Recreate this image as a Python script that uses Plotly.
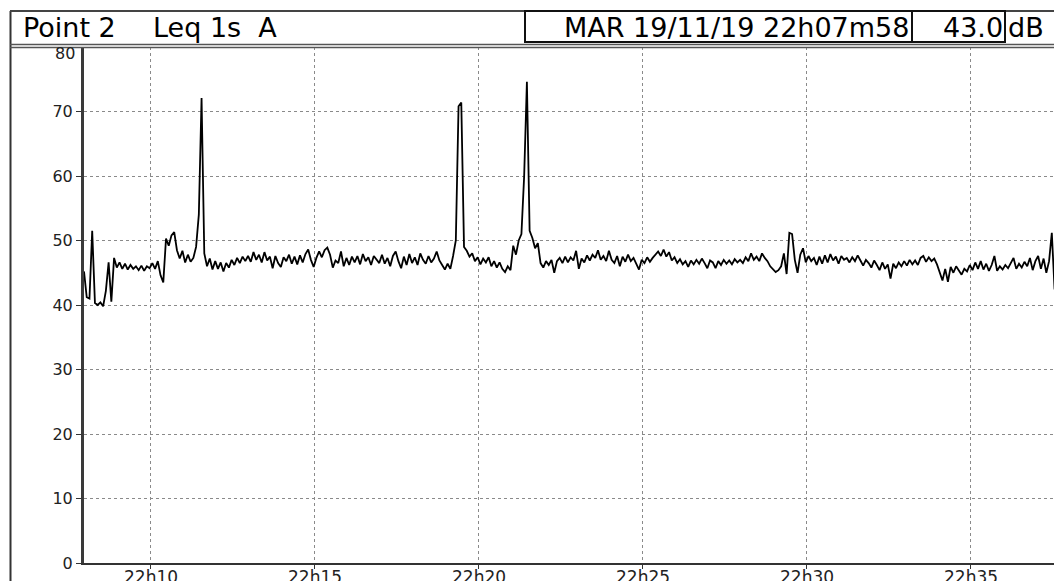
import pandas as pd
import plotly.graph_objects as go

# ---------------- data ----------------
start_time = "2019-11-19 22:07:58"
step_seconds = 5
leq_values = [
    45.2, 41.2, 41.0, 51.5, 40.3, 40.0, 40.4, 39.8, 42.2, 46.6,
    40.5, 47.3, 45.8, 46.6, 45.6, 46.4, 45.5, 46.2, 45.6, 46.0,
    45.4, 46.1, 45.3, 46.0, 45.7, 46.5, 45.6, 46.8, 44.6, 43.5,
    50.3, 49.2, 50.8, 51.3, 48.5, 47.2, 48.4, 46.6, 47.8, 46.7,
    47.3, 49.0, 54.0, 72.1, 48.0, 46.0, 47.2, 45.5, 46.8, 45.6,
    46.6, 45.2, 46.5, 45.8, 47.0, 46.2, 47.3, 46.5, 47.5, 46.8,
    47.6, 46.7, 48.2, 47.0, 47.8, 46.6, 48.2, 46.9, 47.5, 45.7,
    47.6, 46.5, 45.9, 47.4, 46.8, 47.8, 46.4, 47.5, 46.3, 47.7,
    46.6, 47.9, 48.6, 47.0, 45.9, 47.3, 48.3, 47.4, 48.5, 48.9,
    47.8, 45.8, 46.9, 46.5, 48.3, 46.0, 47.3, 46.2, 47.5, 46.6,
    47.6, 46.3, 47.9, 46.8, 47.4, 46.2, 47.6, 47.0, 46.5, 47.8,
    46.4, 47.3, 46.0, 47.6, 48.3, 46.8, 45.7, 47.5, 46.2, 47.9,
    46.5, 47.4, 46.2, 48.0, 47.0, 46.4, 47.6, 46.6, 47.2, 48.3,
    46.9, 46.2, 45.5, 46.4, 45.6, 47.6, 50.0, 70.8, 71.4, 49.0,
    48.4, 47.5, 48.0, 46.8, 47.4, 46.3, 47.2, 46.6, 47.4, 46.0,
    46.8, 45.8, 46.6, 45.6, 45.1, 46.0, 45.4, 49.2, 47.8, 50.0,
    51.0, 60.0, 74.6, 51.5, 50.4, 48.8, 49.6, 46.5, 45.8, 46.8,
    46.2, 47.0, 45.0, 46.8, 47.3, 46.5, 47.5, 46.6, 47.4, 46.9,
    48.4, 45.6, 47.2, 46.6, 47.7, 46.9, 47.8, 47.3, 48.5, 47.0,
    47.6, 46.8, 48.4, 47.0, 46.5, 47.6, 46.0, 47.5, 46.7, 47.8,
    46.8, 47.3, 46.4, 45.5, 47.0, 46.5, 47.4, 46.7, 47.3, 47.8,
    48.3, 47.6, 48.6, 47.5, 48.2, 46.9, 47.4, 46.5, 47.1, 46.3,
    46.8, 45.9, 46.9, 46.3, 47.0, 46.4, 47.2, 46.5, 45.7, 46.9,
    46.6, 45.7, 46.8, 46.2, 47.0, 46.4, 46.9, 46.3, 47.1, 46.6,
    47.0, 46.5, 47.4, 46.8, 48.0, 47.0, 47.5, 46.8, 48.0, 47.3,
    46.8, 46.0, 45.6, 45.1, 45.4, 46.0, 48.0, 44.8, 51.2, 51.0,
    47.0, 45.0, 47.8, 48.8, 46.6, 47.6, 46.8, 47.3, 46.2, 47.5,
    46.4, 47.7, 46.6, 47.9, 46.9, 47.5, 46.4, 47.6, 47.0, 47.3,
    46.6, 47.4, 46.8, 47.7, 46.9, 46.1, 47.0, 46.5, 45.8, 46.9,
    46.2, 45.4, 46.6, 45.6, 46.3, 44.1, 46.4, 45.7, 46.6, 46.0,
    46.8, 46.1, 47.0, 46.3, 46.9, 46.2, 47.3, 47.6, 46.7, 47.4,
    46.8, 47.2, 46.3, 45.2, 43.8, 45.6, 43.6, 45.9, 45.0, 46.0,
    45.3, 44.7, 45.6, 45.2, 46.2, 45.4, 46.6, 45.6, 46.8, 45.5,
    46.4, 45.3, 46.2, 47.6, 45.3, 46.0, 45.5, 46.2, 45.7, 46.5,
    47.3, 45.6, 46.4, 45.8, 46.7, 46.0, 47.3, 45.4, 46.8, 47.6,
    45.6, 47.2, 45.0, 46.8, 51.2, 42.5, 41.8,
]
x_tick_times = ["2019-11-19 22:10:00", "2019-11-19 22:15:00", "2019-11-19 22:20:00",
                "2019-11-19 22:25:00", "2019-11-19 22:30:00", "2019-11-19 22:35:00"]
x_tick_labels = ["22h10", "22h15", "22h20", "22h25", "22h30", "22h35"]
y_ticks = [0, 10, 20, 30, 40, 50, 60, 70, 80]
y_ticktext = ["0", "10", "20", "30", "40", "50", "60", "70", ""]
top_label = "80"
header_left = ["Point 2", "Leq 1s  A"]
header_date = "MAR 19/11/19 22h07m58"
header_level = "43.0"
header_unit = "dB"

t0 = pd.Timestamp(start_time)
times = [t0 + pd.Timedelta(seconds=i * step_seconds) for i in range(len(leq_values))]
x_end = t0 + pd.Timedelta(seconds=1774)

# ---------------- layout helpers ----------------
W, H = 1054, 581
L, R, T, B = 84, 0, 47, 18
PW, PH = W - L - R, H - T - B


def px(xp):
    return (xp - L) / PW


def py(yp):
    return (H - B - yp) / PH


FONT = "DejaVu Sans"

fig = go.Figure()
fig.add_trace(go.Scatter(x=times, y=leq_values, mode="lines",
                         line=dict(color="black", width=1.8),
                         showlegend=False, hoverinfo="skip"))

shapes = [
    dict(type="line", x0=px(10.5), x1=px(10.5), y0=py(11), y1=py(585),
         line=dict(color="#333", width=2)),
    dict(type="line", x0=px(10), x1=px(1060), y0=py(11), y1=py(11),
         line=dict(color="#444", width=2)),
    dict(type="line", x0=px(10), x1=px(1060), y0=py(44.5), y1=py(44.5),
         line=dict(color="#555", width=1.5)),
    dict(type="line", x0=px(10), x1=px(1060), y0=py(47.5), y1=py(47.5),
         line=dict(color="#555", width=1.5)),
    dict(type="rect", x0=px(525), x1=px(1005), y0=py(42), y1=py(11),
         line=dict(color="#111", width=2)),
    dict(type="line", x0=px(912), x1=px(912), y0=py(42), y1=py(11),
         line=dict(color="#111", width=2)),
]
for s in shapes:
    s.update(xref="paper", yref="paper", layer="above")

ann_y = py(28)
annotations = [
    dict(text=header_left[0], x=px(21), y=ann_y, xanchor="left"),
    dict(text=header_left[1], x=px(151), y=ann_y, xanchor="left"),
    dict(text=header_date, x=px(911), y=ann_y, xanchor="right"),
    dict(text=header_level, x=px(1005), y=ann_y, xanchor="right"),
    dict(text=header_unit, x=px(1006), y=ann_y, xanchor="left"),
]
for a in annotations:
    a.update(xref="paper", yref="paper", yanchor="middle", showarrow=False,
             font=dict(family=FONT, size=27, color="black"))
annotations.append(dict(text=top_label, xref="paper", yref="paper",
                        x=px(77), y=py(53), xanchor="right", yanchor="middle",
                        showarrow=False,
                        font=dict(family=FONT, size=16, color="#222")))
# time labels under the axis (partially cut by the window, as in the reference)
for tt, lab in zip(x_tick_times, x_tick_labels):
    annotations.append(dict(text=lab, xref="x", yref="paper", x=tt, y=py(565),
                            xanchor="center", yanchor="top", showarrow=False,
                            font=dict(family=FONT, size=17, color="#222")))

fig.update_layout(
    width=W, height=H,
    margin=dict(l=L, r=R, t=T, b=B, pad=0, autoexpand=False),
    paper_bgcolor="white", plot_bgcolor="white",
    shapes=shapes, annotations=annotations,
    xaxis=dict(
        range=[t0, x_end], type="date", automargin=False,
        tickvals=x_tick_times, showticklabels=False,
        showgrid=True, gridcolor="#8a8a8a", griddash="dot", gridwidth=1,
        showline=True, linecolor="#333", linewidth=2,
        ticks="outside", ticklen=4, tickcolor="#333",
        zeroline=False,
    ),
    yaxis=dict(
        range=[0, 80], tickvals=y_ticks, ticktext=y_ticktext, automargin=False,
        showgrid=True, gridcolor="#8a8a8a", griddash="dot", gridwidth=1,
        showline=True, linecolor="#3a3a3a", linewidth=3,
        ticks="outside", ticklen=5, tickcolor="#333",
        tickfont=dict(family=FONT, size=16, color="#222"),
        zeroline=False,
    ),
)

fig.write_html("out.html")
